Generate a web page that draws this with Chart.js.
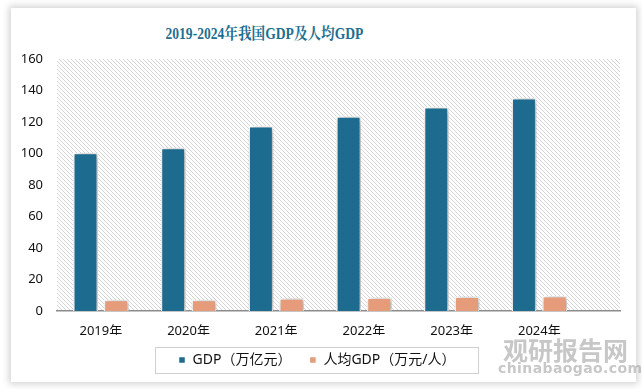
<!DOCTYPE html>
<html>
<head>
<meta charset="utf-8">
<script src="https://cdn.jsdelivr.net/npm/chart.js@4"></script>
<style>
  html, body { margin: 0; padding: 0; background: #fff; }
  body { width: 642px; height: 389px; position: relative; overflow: hidden; }
  .card { position: absolute; left: 11px; top: 8px; width: 625px; height: 374px; background: #fff;
          box-shadow: 0 0 7px 2px rgba(0,0,0,0.18); }
  .title { position: absolute; left: 0; width: 529px; top: 21px; text-align: center;
           font: bold 16px "Liberation Serif", "Noto Serif CJK SC", "Noto Sans CJK SC", serif; color: #1f6f91;
           transform: scaleX(0.85); transform-origin: 264px 0; }
  #chart { position: absolute; left: 0; top: 0; }
  .wm1 { position: absolute; left: 503px; top: 331px; font: bold 25px "Noto Sans CJK SC", sans-serif; color: rgba(130,130,130,0.45); }
  .wm2 { position: absolute; left: 498px; top: 360px; font: bold 14px "DejaVu Sans", sans-serif; color: rgba(130,130,130,0.45); letter-spacing: 0.4px; }
</style>
</head>
<body>
<div class="card"></div>
<div class="title">2019-2024年我国GDP及人均GDP</div>
<canvas id="chart" width="642" height="389"></canvas>
<div class="wm1">观研报告网</div>
<div class="wm2">chinabaogao.com</div>
<script>
document.addEventListener("DOMContentLoaded", function () {
    const years = ['2019年', '2020年', '2021年', '2022年', '2023年', '2024年'];
    const gdp = [100.5, 103.7, 117.4, 123.7, 129.5, 135.3];
    const perCapita = [7.2, 7.2, 8.1, 8.6, 9.2, 9.5];
    const yTicks = [0, 20, 40, 60, 80, 100, 120, 140, 160];

    const font = "'Noto Sans', 'Noto Sans CJK SC', sans-serif";

    // diagonal hatch for the plot background
    const pat = document.createElement('canvas');
    pat.width = 4; pat.height = 4;
    const pctx = pat.getContext('2d');
    pctx.strokeStyle = '#d4d4d4';
    pctx.lineWidth = 1;
    pctx.beginPath();
    pctx.moveTo(0, 0); pctx.lineTo(4, 4);
    pctx.moveTo(-1, 3); pctx.lineTo(1, 5);
    pctx.moveTo(3, -1); pctx.lineTo(5, 1);
    pctx.stroke();

    const hatchBg = {
        id: 'hatchBg',
        beforeDraw(chart) {
            const a = chart.chartArea, c = chart.ctx;
            c.save();
            c.fillStyle = c.createPattern(pat, 'repeat');
            c.fillRect(a.left, a.top, a.right - a.left, a.bottom - a.top);
            c.restore();
        }
    };

    const barShadow = {
        id: 'barShadow',
        beforeDatasetsDraw(chart) {
            const c = chart.ctx;
            c.save();
            c.shadowColor = 'rgba(0,0,0,0.4)';
            c.shadowBlur = 7;
            c.shadowOffsetX = 2;
            c.shadowOffsetY = 1;
        },
        afterDatasetsDraw(chart) {
            chart.ctx.restore();
        }
    };

    const legendFrame = {
        id: 'legendFrame',
        afterDraw(chart) {
            const boxes = chart.legend.legendHitBoxes;
            if (!boxes || !boxes.length) return;
            const first = boxes[0], last = boxes[boxes.length - 1];
            const c = chart.ctx;
            const x0 = first.left - 24, x1 = last.left + last.width + 22;
            const yc = first.top + first.height / 2;
            c.save();
            c.strokeStyle = '#d0d0d0';
            c.lineWidth = 1;
            c.strokeRect(Math.round(x0) + 0.5, Math.round(yc - 13) + 0.5, Math.round(x1 - x0), 26);
            c.restore();
        }
    };

    new Chart(document.getElementById('chart'), {
        type: 'bar',
        data: {
            datasets: [{
                label: 'GDP（万亿元）',
                data: gdp.map((v, i) => ({ x: i, y: v })),
                backgroundColor: '#1d6b8f',
                borderColor: '#ffffff',
                borderWidth: 1.5
            }, {
                label: '人均GDP（万元/人）',
                data: perCapita.map((v, i) => ({ x: i, y: v })),
                backgroundColor: '#e69b7a',
                borderColor: '#ffffff',
                borderWidth: 1.5
            }]
        },
        options: {
            responsive: false,
            animation: false,
            categoryPercentage: 0.70,
            barPercentage: 0.81,
            layout: { padding: { left: 14, right: 22, top: 59, bottom: 12 } },
            scales: {
                x: {
                    type: 'linear',
                    offset: false,
                    min: -0.5,
                    max: 5.92,
                    grid: { display: false, drawTicks: false },
                    border: { color: '#8c8c8c', width: 1.5 },
                    afterBuildTicks: scale => { scale.ticks = years.map((y, i) => ({ value: i })); },
                    afterFit: scale => { scale.height = 24; },
                    ticks: {
                        padding: 12,
                        color: '#111',
                        font: { family: font, size: 13 },
                        callback: v => years[v]
                    }
                },
                y: {
                    min: 0,
                    max: 160,
                    grid: { display: false, drawTicks: false },
                    border: { display: false },
                    afterBuildTicks: scale => { scale.ticks = yTicks.map(v => ({ value: v })); },
                    afterFit: scale => { scale.width = 43; },
                    ticks: {
                        padding: 14,
                        color: '#111',
                        font: { family: font, size: 13 }
                    }
                }
            },
            plugins: {
                legend: {
                    position: 'bottom',
                    labels: {
                        boxWidth: 7,
                        boxHeight: 7,
                        padding: 18,
                        color: '#111',
                        font: { family: font, size: 14 }
                    }
                },
                tooltip: { enabled: false }
            }
        },
        plugins: [hatchBg, barShadow, legendFrame]
    });
});
</script>
</body>
</html>
